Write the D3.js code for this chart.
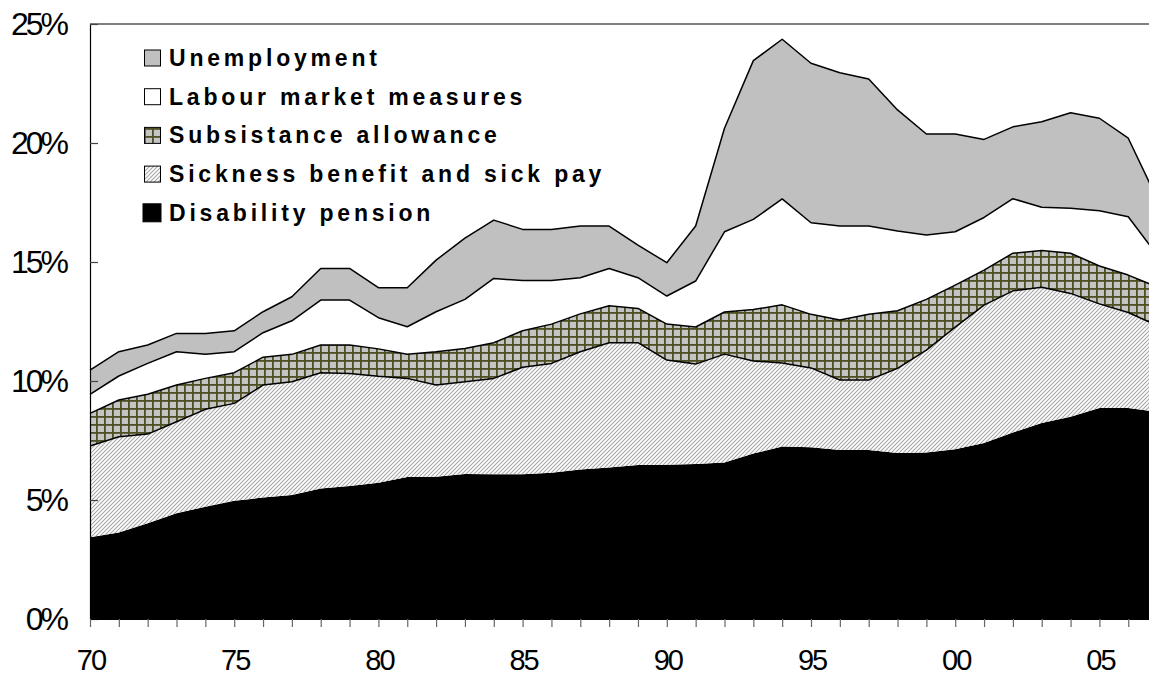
<!DOCTYPE html>
<html><head><meta charset="utf-8">
<script src="https://cdn.jsdelivr.net/npm/d3@7"></script>
<style>html,body{margin:0;padding:0;background:#fff;} svg{display:block;}</style>
</head><body><svg id="chart" width="1149" height="677"></svg>
<script>
// ---- data (percent of population) ----
const years = [1970,1971,1972,1973,1974,1975,1976,1977,1978,1979,1980,1981,1982,1983,1984,1985,1986,1987,1988,1989,
               1990,1991,1992,1993,1994,1995,1996,1997,1998,1999,2000,2001,2002,2003,2004,2005,2006,2007];
const disability   = [3.43,3.63,4.02,4.44,4.72,4.97,5.10,5.21,5.48,5.59,5.73,5.97,5.98,6.09,6.08,6.08,6.15,6.28,6.37,6.47,
                      6.48,6.51,6.58,6.95,7.25,7.22,7.10,7.10,6.98,7.00,7.13,7.39,7.84,8.24,8.50,8.87,8.87,8.70];
const sickness     = [3.84,4.03,3.75,3.85,4.09,4.09,4.73,4.76,4.87,4.73,4.47,4.14,3.85,3.88,4.03,4.50,4.59,4.95,5.24,5.14,
                      4.40,4.20,4.55,3.89,3.51,3.33,2.94,2.94,3.55,4.30,5.13,5.80,5.95,5.70,5.18,4.37,4.01,3.63];
const subsistence  = [1.37,1.54,1.67,1.54,1.30,1.29,1.17,1.15,1.16,1.19,1.15,1.01,1.40,1.40,1.50,1.53,1.65,1.59,1.55,1.44,
                      1.51,1.56,1.77,2.16,2.44,2.25,2.52,2.76,2.42,2.13,1.77,1.47,1.58,1.54,1.69,1.59,1.57,1.62];
const labour       = [0.80,1.01,1.30,1.40,1.01,0.88,1.03,1.41,1.89,1.89,1.31,1.16,1.68,2.06,2.70,2.11,1.83,1.52,1.57,1.29,
                      1.18,1.93,3.37,3.79,4.45,3.85,3.95,3.71,3.35,2.70,2.24,2.21,2.29,1.82,1.89,2.32,2.45,1.35];
const unemployment = [1.02,1.02,0.77,0.77,0.88,0.88,0.88,1.01,1.33,1.33,1.26,1.64,2.17,2.57,2.45,2.15,2.15,2.17,1.78,1.37,
                      1.40,2.31,4.35,6.67,6.71,6.70,6.44,6.18,5.09,4.25,4.11,3.28,3.02,3.59,4.01,3.89,3.30,2.36];
const seriesKeys   = ["disability","sickness","subsistence","labour","unemployment"];
const seriesLabels = ["Disability pension","Sickness benefit and sick pay","Subsistance allowance","Labour market measures","Unemployment"];
const xTickYears   = [1970,1975,1980,1985,1990,1995,2000,2005];
const xTickLabels  = ["70","75","80","85","90","95","00","05"];
const yTicks       = [0,5,10,15,20,25];
const yTickLabels  = ["0%","5%","10%","15%","20%","25%"];

const svg = d3.select("#chart");
const defs = svg.append("defs");
// diagonal hatch
const hatch = defs.append("pattern").attr("id","hatch").attr("patternUnits","userSpaceOnUse")
  .attr("width",4).attr("height",4);
hatch.append("rect").attr("width",4).attr("height",4).attr("fill","#fff");
hatch.append("path").attr("d","M-1,1 L1,-1 M0,4 L4,0 M3,5 L5,3").attr("stroke","#a6a6a6").attr("stroke-width",1.1);
// grid (crosshatch)
const grid = defs.append("pattern").attr("id","grid").attr("patternUnits","userSpaceOnUse")
  .attr("width",8).attr("height",8);
grid.append("rect").attr("width",8).attr("height",8).attr("fill","#c4c4c4");
grid.append("rect").attr("width",8).attr("height",1.8).attr("fill","#4f4f24");
grid.append("rect").attr("width",1.8).attr("height",8).attr("fill","#4f4f24");

const fills = {disability:"#000", sickness:"url(#hatch)", subsistence:"url(#grid)", labour:"#fff", unemployment:"#c0c0c0"};

const x = d3.scaleLinear().domain([1970,2007]).range([90,1157.1]);
const y = d3.scaleLinear().domain([0,25]).range([619,24]);

const rows = years.map((yr,i)=>({year:yr, disability:disability[i], sickness:sickness[i],
  subsistence:subsistence[i], labour:labour[i], unemployment:unemployment[i]}));
const stacked = d3.stack().keys(seriesKeys)(rows);

const area = d3.area().x(d=>x(d.data.year)).y0(d=>y(d[0])).y1(d=>y(d[1]));
const topLine = d3.line().x(d=>x(d.data.year)).y(d=>y(d[1]));

svg.append("g").selectAll("path").data(stacked).join("path")
  .attr("d",area).attr("fill",d=>fills[d.key]).attr("stroke","none");
svg.append("g").selectAll("path").data(stacked.filter(s=>s.key!=="disability")).join("path")
  .attr("d",topLine).attr("fill","none").attr("stroke","#000").attr("stroke-width",1.5).attr("stroke-linejoin","round");

// top border
svg.append("line").attr("x1",90).attr("x2",1149).attr("y1",y(25)).attr("y2",y(25))
  .attr("stroke","#808080").attr("stroke-width",2);

// y axis
const yAxis = d3.axisLeft(y).tickValues(yTicks).tickSize(-8).tickSizeOuter(0).tickPadding(24)
  .tickFormat((d,i)=>yTickLabels[i]);
const gy = svg.append("g").attr("transform","translate(90,0)").call(yAxis);
gy.select(".domain").attr("stroke","#000").attr("stroke-width",1.2);
gy.selectAll(".tick line").attr("stroke","#444").attr("stroke-width",1.2);
gy.selectAll(".tick text").attr("font-family","'Liberation Sans', Arial, sans-serif")
  .attr("font-size",32).attr("letter-spacing","-3px").attr("fill","#000").attr("dy","0.34em");

// x axis
const xAxis = d3.axisBottom(x).tickValues(years.filter(v=>v<=2006)).tickSize(8).tickSizeOuter(0)
  .tickFormat(()=>"");
const gx = svg.append("g").attr("transform","translate(0,"+y(0)+")").call(xAxis);
gx.select(".domain").attr("stroke","#000");
gx.selectAll(".tick line").attr("stroke","#666").attr("stroke-width",1.2);
svg.append("g").selectAll("text").data(xTickYears).join("text")
  .attr("x",d=>x(d)+1).attr("y",670).attr("text-anchor","middle")
  .attr("font-family","'Liberation Sans', Arial, sans-serif").attr("font-size",29)
  .attr("letter-spacing","-2px").attr("fill","#000")
  .text((d,i)=>xTickLabels[i]);

// legend (top to bottom: reverse of stack order)
const legendKeys = seriesKeys.slice().reverse();
const legendLabels = seriesLabels.slice().reverse();
const lg = svg.append("g");
legendKeys.forEach((k,i)=>{
  const base = 66 + i*38.7;
  const big = k==="disability";
  const s = big ? 18 : 16;
  lg.append("rect").attr("x",big?143:144.5).attr("y",base-s+(big?1:0)).attr("width",s).attr("height",s)
    .attr("fill",fills[k]).attr("stroke","#000").attr("stroke-width",1);
  lg.append("text").attr("x",169).attr("y",base)
    .attr("font-family","'Liberation Sans', Arial, sans-serif").attr("font-weight","bold")
    .attr("font-size",23).attr("letter-spacing","3.8px").attr("fill","#000")
    .text(legendLabels[i]);
});
</script></body></html>
